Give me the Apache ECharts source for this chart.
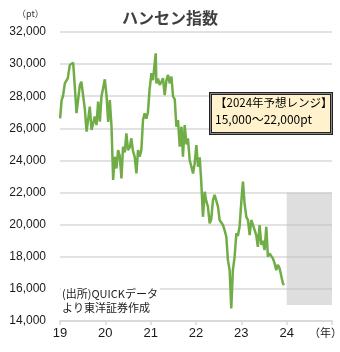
<!DOCTYPE html>
<html>
<head>
<meta charset="utf-8">
<script src="https://cdn.jsdelivr.net/npm/echarts@6/dist/echarts.min.js"></script>
<style>
  html, body { margin: 0; padding: 0; background: #fff; }
  #chart { width: 340px; height: 352px; }
</style>
</head>
<body>
<div id="chart"></div>
<script>
// Hang Seng index, closing levels sampled through 2019–2023 (pt)
const dates = [
  '2019-01-02','2019-01-14','2019-01-25','2019-02-09','2019-02-21','2019-03-05','2019-03-21','2019-04-17',
  '2019-05-01','2019-05-14','2019-05-25','2019-06-10','2019-06-22','2019-07-06','2019-07-20','2019-08-03',
  '2019-08-16','2019-08-29','2019-09-12','2019-09-25','2019-10-08','2019-10-22','2019-11-04','2019-11-18',
  '2019-12-01','2019-12-14','2019-12-28','2020-01-11','2020-01-24','2020-02-06','2020-02-20','2020-03-04',
  '2020-03-17','2020-03-31','2020-04-13','2020-04-26','2020-05-10','2020-05-23','2020-06-06','2020-06-19',
  '2020-07-02','2020-07-16','2020-07-29','2020-08-11','2020-08-25','2020-09-08','2020-09-21','2020-10-04',
  '2020-10-18','2020-10-31','2020-11-13','2020-11-27','2020-12-10','2020-12-23','2021-01-07','2021-01-20',
  '2021-01-30','2021-02-11','2021-02-16','2021-03-01','2021-03-15','2021-03-29','2021-04-10','2021-04-24',
  '2021-05-08','2021-05-21','2021-06-03','2021-06-17','2021-06-30','2021-07-14','2021-07-27','2021-08-09',
  '2021-08-23','2021-09-06','2021-09-18','2021-10-02','2021-10-16','2021-10-28','2021-11-11','2021-11-25',
  '2021-12-08','2021-12-21','2022-01-04','2022-01-17','2022-01-31','2022-02-08','2022-02-13','2022-02-26',
  '2022-03-12','2022-03-24','2022-04-07','2022-04-21','2022-05-03','2022-05-18','2022-05-31','2022-06-14',
  '2022-06-27','2022-07-10','2022-07-24','2022-08-06','2022-08-19','2022-09-02','2022-09-15','2022-09-29',
  '2022-10-12','2022-10-25','2022-11-08','2022-11-22','2022-12-04','2022-12-18','2023-01-02','2023-01-14',
  '2023-01-27','2023-02-10','2023-02-23','2023-03-09','2023-03-22','2023-04-04','2023-04-18','2023-05-01',
  '2023-05-14','2023-05-28','2023-06-11','2023-06-23','2023-07-07','2023-07-21','2023-08-03','2023-08-16',
  '2023-08-30','2023-09-12','2023-09-26','2023-10-09','2023-10-22','2023-11-05','2023-11-18','2023-12-02',
  '2023-12-10'
];
const hsi = [
  26620,27760,28000,28800,28700,29130,29950,30090,
  28500,26950,27050,28700,28900,28800,27200,25790,
  25800,27350,25900,26300,26730,26200,27660,26410,
  28000,28500,29050,28000,26400,27760,26100,22780,
  24230,23500,24650,24300,22880,24860,24500,25690,
  24650,24800,25380,24600,24230,23190,24650,24230,
  24650,26520,26930,26600,27000,28390,29430,29000,
  29800,30670,28800,29100,28700,28900,29120,28070,
  29000,29330,28800,29220,28000,27800,26100,26520,
  24860,26100,24230,26200,25000,25380,24030,23610,
  23190,23800,24960,23610,24200,23200,22570,20490,
  22050,21500,21120,20080,20300,21540,21850,21800,
  21120,20290,20200,19980,19660,19250,17790,17170,
  14780,17170,18000,19460,19300,19870,21540,22680,
  21330,20490,20300,19350,20290,20000,20080,19350,
  18620,19980,18740,19000,18420,19870,18000,18200,
  18210,17900,17590,17170,17500,17280,17400,16340,
  16240
];
// 2024 forecast range
const rangeYear = [2024, 2025];
const rangeLow = 15000;
const rangeHigh = 22000;
const rangeTitle = '【2024年予想レンジ】';
const rangeText = '15,000～22,000pt';

const yearTicks = [2019, 2020, 2021, 2022, 2023, 2024];

function toYear(s) {
  const [y, m, d] = s.split('-').map(Number);
  const start = Date.UTC(y, 0, 1), end = Date.UTC(y + 1, 0, 1);
  return y + (Date.UTC(y, m - 1, d) - start) / (end - start);
}

const seriesData = dates.map((d, i) => [toYear(d), hsi[i]]);

const jpFont = '"Noto Sans CJK JP", "Liberation Sans", sans-serif';
const numFont = '"Liberation Sans", Arial, sans-serif';

const chart = echarts.init(document.getElementById('chart'), null, { renderer: 'canvas' });

chart.setOption({
  animation: false,
  backgroundColor: '#ffffff',
  title: {
    text: 'ハンセン指数',
    left: 'center',
    top: 5,
    textStyle: { fontFamily: jpFont, fontSize: 16, fontWeight: 'bold', color: '#404040' }
  },
  grid: { left: 60, right: 8, top: 32, bottom: 31 },
  xAxis: {
    type: 'value',
    min: 2019,
    max: 2025,
    interval: 1,
    axisLine: { show: true, lineStyle: { color: '#d9d9d9', width: 2 } },
    axisTick: { show: true, length: 4, lineStyle: { color: '#d9d9d9', width: 1.5 } },
    splitLine: { show: false },
    axisLabel: {
      margin: 6,
      fontFamily: numFont,
      fontSize: 13,
      color: '#1a1a1a',
      formatter: v => (yearTicks.indexOf(v) >= 0 ? String(v).slice(2) : '')
    }
  },
  yAxis: {
    type: 'value',
    min: 14000,
    max: 32000,
    interval: 2000,
    axisLine: { show: false },
    axisTick: { show: false },
    splitLine: { show: true, lineStyle: { color: '#d9d9d9', width: 1.5 } },
    axisLabel: {
      margin: 14,
      fontFamily: numFont,
      fontSize: 12,
      color: '#1a1a1a',
      formatter: v => v.toLocaleString('en-US')
    }
  },
  series: [{
    type: 'line',
    data: seriesData,
    showSymbol: false,
    symbol: 'none',
    lineStyle: { color: '#70ad47', width: 2.5 },
    z: 3,
    markArea: {
      silent: true,
      itemStyle: { color: 'rgba(190,190,190,0.5)' },
      data: [[
        { xAxis: rangeYear[0], yAxis: rangeLow },
        { xAxis: rangeYear[1], yAxis: rangeHigh }
      ]]
    }
  }],
  graphic: [
    {
      type: 'text',
      left: 17,
      top: 9,
      style: { text: '（pt）', font: '9px ' + jpFont, fill: '#333' }
    },
    {
      type: 'text',
      left: 309,
      top: 327,
      style: { text: '（年）', font: '11px ' + jpFont, fill: '#1a1a1a' }
    },
    {
      type: 'rect',
      shape: { x: 61, y: 283, width: 99, height: 35 },
      style: { fill: '#ffffff' },
      z: 10
    },
    {
      type: 'text',
      left: 62,
      top: 287,
      z: 11,
      style: {
        text: '(出所)QUICKデータ\nより東洋証券作成',
        font: '11px ' + jpFont,
        lineHeight: 14,
        fill: '#1a1a1a'
      }
    },
    // forecast note: dark double frame on a cream panel
    {
      type: 'rect',
      shape: { x: 210.5, y: 93.5, width: 121, height: 40 },
      style: { fill: '#fff2cc', stroke: '#222222', lineWidth: 3 },
      z: 20
    },
    {
      type: 'rect',
      shape: { x: 210.5, y: 93.5, width: 121, height: 40 },
      style: { fill: 'none', stroke: '#8a8a8a', lineWidth: 1 },
      z: 21
    },
    {
      type: 'text',
      left: 215,
      top: 97,
      z: 22,
      style: {
        text: '{t|' + rangeTitle + '}\n{v|' + rangeText + '}',
        rich: {
          t: { fontFamily: jpFont, fontSize: 11.5, lineHeight: 17, color: '#111' },
          v: { fontFamily: jpFont, fontSize: 12, lineHeight: 17, color: '#111' }
        }
      }
    }
  ]
});
</script>
</body>
</html>
